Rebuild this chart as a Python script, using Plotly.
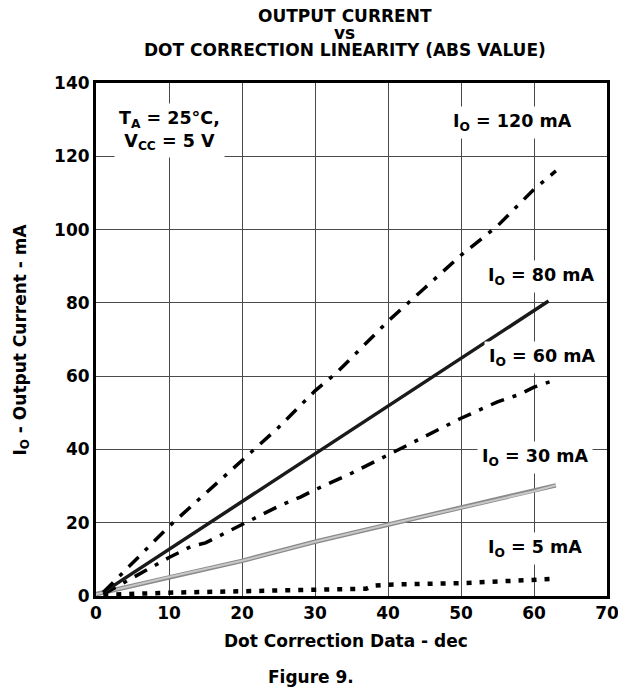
import plotly.graph_objects as go

# Dot correction data (dec) and output current (mA) for each series
x_120 = [1, 5, 10, 15, 20, 25, 30, 33, 35, 40, 45, 50, 55, 60, 63]
y_120 = [1, 9, 19, 28, 37, 46, 56, 61, 65, 75, 84, 93, 101, 111, 116]

x_80 = [1, 62]
y_80 = [1, 80.5]

x_60 = [1, 5, 10, 13, 15, 20, 25, 28, 30, 35, 40, 45, 50, 55, 58, 60, 63]
y_60 = [0.5, 5, 10.5, 13.5, 14.5, 19.5, 24.5, 27, 29, 33.5, 38.5, 43.5, 48.5, 53, 55, 57, 59]

x_30 = [0, 10, 20, 30, 40, 50, 60, 63]
y_30 = [0.5, 5.2, 9.6, 14.8, 19.5, 24, 28.6, 30.2]

x_5 = [1, 5, 10, 20, 30, 37, 38, 40, 50, 60, 63]
y_5 = [0.3, 0.6, 0.9, 1.3, 1.7, 2.0, 2.8, 3.1, 3.5, 4.2, 4.7]

x_ticks = [0, 10, 20, 30, 40, 50, 60, 70]
y_ticks = [0, 20, 40, 60, 80, 100, 120, 140]

FONT = "DejaVu Sans, Arial, sans-serif"

fig = go.Figure()
fig.add_trace(go.Scatter(x=x_5, y=y_5, mode="lines",
                         line=dict(color="black", width=4.5, dash="5px,8px")))
fig.add_trace(go.Scatter(x=x_30, y=y_30, mode="lines",
                         line=dict(color="#8a8a8a", width=4.5)))
fig.add_trace(go.Scatter(x=x_30, y=y_30, mode="lines",
                         line=dict(color="#c8c8c8", width=2)))
fig.add_trace(go.Scatter(x=x_60, y=y_60, mode="lines",
                         line=dict(color="black", width=3.5, dash="14px,9px,4px,9px")))
fig.add_trace(go.Scatter(x=x_80, y=y_80, mode="lines",
                         line=dict(color="#1a1a1a", width=3.5)))
fig.add_trace(go.Scatter(x=x_120, y=y_120, mode="lines",
                         line=dict(color="black", width=3.5, dash="14px,9px,4px,9px")))

lbl = dict(size=17.5, color="black", family=FONT)
ann = []
def add_label(x, y, text, xanchor="center"):
    ann.append(dict(x=x, y=y, xref="x", yref="y", text="<b>" + text + "</b>",
                    showarrow=False, font=lbl, bgcolor="white",
                    xanchor=xanchor, yanchor="middle", borderpad=4))

add_label(2.4, 127, "T<sub>A</sub> = 25°C,<br>V<sub>CC</sub> = 5 V", xanchor="left")
add_label(57.1, 129.1, "I<sub>O</sub> = 120 mA")
add_label(61.0, 87.3, "I<sub>O</sub> = 80 mA")
add_label(61.1, 65, "I<sub>O</sub> = 60 mA")
add_label(60.1, 37.7, "I<sub>O</sub> = 30 mA")
add_label(60.1, 13.1, "I<sub>O</sub> = 5 mA")

tfont = dict(size=17, color="black", family=FONT)
for txt, ys in [("OUTPUT CURRENT", 67), ("vs", 50), ("DOT CORRECTION LINEARITY (ABS VALUE)", 33)]:
    ann.append(dict(x=0.487, y=1.0, xref="paper", yref="paper", yshift=ys,
                    text="<b>" + txt + "</b>", showarrow=False, font=tfont,
                    xanchor="center", yanchor="middle"))
ann.append(dict(x=0.42, y=0, xref="paper", yref="paper", yshift=-81,
                text="<b>Figure 9.</b>", showarrow=False, font=tfont,
                xanchor="center", yanchor="middle"))
ann.append(dict(x=0.49, y=0, xref="paper", yref="paper", yshift=-45,
                text="<b>Dot Correction Data - dec</b>", showarrow=False, font=tfont,
                xanchor="center", yanchor="middle"))
ann.append(dict(x=0, y=0.5, xref="paper", yref="paper", xshift=-75,
                text="<b>I<sub>O</sub> - Output Current - mA</b>", showarrow=False,
                font=tfont, textangle=-90, xanchor="center", yanchor="middle"))

axis_common = dict(showline=True, linecolor="black", linewidth=3, mirror=True,
                   showgrid=True, gridcolor="#4a4a4a", gridwidth=1,
                   zeroline=False, ticks="", automargin=False,
                   ticklabeloverflow="allow",
                   tickfont=dict(size=17, color="black", family=FONT))

fig.update_layout(
    width=618, height=692,
    margin=dict(l=96, r=11, t=83, b=96, autoexpand=False),
    paper_bgcolor="white", plot_bgcolor="white",
    showlegend=False,
    annotations=ann,
    xaxis=dict(range=[0, 70], tickvals=x_ticks,
               ticktext=["<b>%d</b>" % v for v in x_ticks], **axis_common),
    yaxis=dict(range=[0, 140], tickvals=y_ticks,
               ticktext=["<b>%d</b>" % v for v in y_ticks], **axis_common),
)
fig.write_html("out.html", config={"displayModeBar": False},
               post_script="document.body.style.margin='0';")
